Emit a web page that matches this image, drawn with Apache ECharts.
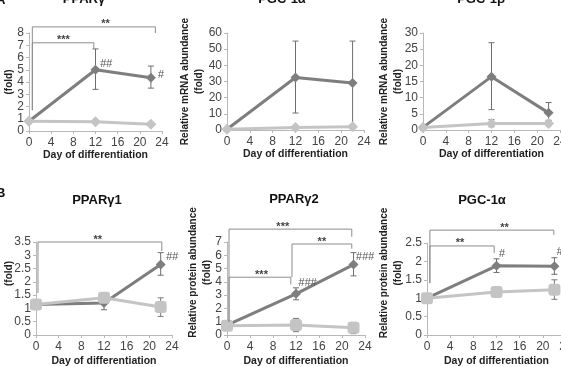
<!DOCTYPE html>
<html>
<head>
<meta charset="utf-8">
<script src="https://cdn.jsdelivr.net/npm/echarts@6/dist/echarts.min.js"></script>
<style>
  html, body { margin: 0; padding: 0; background: #fff; }
  #chart { width: 561px; height: 367px; }
</style>
</head>
<body>
<div id="chart"></div>
<script>
const days = [0, 12, 22];

// A - mRNA, B - protein. dark = differentiating line, light = second line
const ppargMrnaDark = [0.8, 5.0, 4.35];
const ppargMrnaDarkErr = [null, [3.4, 6.7], [3.5, 5.3]];
const ppargMrnaLight = [0.8, 0.75, 0.55];
const ppargMrnaLightErr = [null, null, null];
const ppargMrnaBrackets = [[0.6, 11.7, 7.2, 1.7, 6.7, 6.2, '***'], [0.6, 22.8, 8.5, 1.7, 8.0, 13.8, '**']];
const ppargMrnaHash = [[13.9, 5.45, '##'], [23.8, 4.6, '#']];

const pgc1aMrnaDark = [0.5, 32.5, 29];
const pgc1aMrnaDarkErr = [null, [10.5, 55], [2, 55]];
const pgc1aMrnaLight = [0.5, 1.5, 2];
const pgc1aMrnaLightErr = [null, null, null];

const pgc1bMrnaDark = [0.8, 16.5, 5.3];
const pgc1bMrnaDarkErr = [null, [6.3, 27], [3.0, 8.5]];
const pgc1bMrnaLight = [0.8, 2.0, 2.0];
const pgc1bMrnaLightErr = [null, [1.0, 3.2], [1.5, 2.5]];

const ppargg1Dark = [1.15, 1.2, 2.65];
const ppargg1DarkErr = [null, [0.95, 1.4], [2.25, 3.1]];
const ppargg1Light = [1.15, 1.4, 1.05];
const ppargg1LightErr = [null, null, [0.7, 1.4]];
const ppargg1Brackets = [[0.35, 22.2, 3.5, 1.58, 3.16, 10.9, '**']];
const ppargg1Hash = [[24.0, 2.95, '##']];

const ppargg2Dark = [0.75, 3.1, 5.3];
const ppargg2DarkErr = [null, [2.65, 3.55], [4.45, 6.2]];
const ppargg2Light = [0.7, 0.75, 0.55];
const ppargg2LightErr = [[0.35, 1.0], [0.25, 1.25], [0.1, 0.95]];
const ppargg2Brackets = [
  [0.35, 21.7, 7.97, 1.0, 7.4, 9.7, '***'],
  [11.3, 21.7, 6.85, 4.35, 6.5, 16.5, '**'],
  [0.35, 11.1, 4.35, 1.0, 3.8, 6.0, '***']
];
const ppargg2Hash = [[14.0, 3.9, '###'], [24.0, 5.85, '###']];

const pgc1aProtDark = [1.0, 1.88, 1.87];
const pgc1aProtDarkErr = [null, [1.7, 2.07], [1.65, 2.1]];
const pgc1aProtLight = [1.0, 1.17, 1.23];
const pgc1aProtLightErr = [null, [1.05, 1.3], [0.97, 1.5]];
const pgc1aProtBrackets = [[0.5, 21.9, 2.85, 1.41, 2.72, 13.4, '**'], [0.5, 11.6, 2.42, 1.41, 2.23, 5.7, '**']];
const pgc1aProtHash = [[12.9, 2.2, '#'], [22.9, 2.25, '#']];

const DARK = '#7e7e7e';
const LIGHT = '#c4c4c4';
const AXIS = '#b8b8b8';
const FONT = 'Liberation Sans, Arial, sans-serif';

const panels = [
  { title: 'PPARγ', tx: 84, ty: -1, grid: { left: 29, top: 33, width: 133, height: 98 }, yMax: 8, yStep: 1,
    yName: 'Relative mRNA abundance\n(fold)', yGap: 14, yShift: 0, xGap: 19,
    dark: ppargMrnaDark, darkErr: ppargMrnaDarkErr, light: ppargMrnaLight, lightErr: ppargMrnaLightErr,
    lightSymbol: 'diamond', brackets: ppargMrnaBrackets, hash: ppargMrnaHash },
  { title: 'PGC-1α', tx: 282, ty: -1, grid: { left: 227, top: 33, width: 137, height: 97 }, yMax: 60, yStep: 10,
    yName: 'Relative mRNA abundance\n(fold)', yGap: 22, yShift: 0, xGap: 19,
    dark: pgc1aMrnaDark, darkErr: pgc1aMrnaDarkErr, light: pgc1aMrnaLight, lightErr: pgc1aMrnaLightErr,
    lightSymbol: 'diamond', brackets: [], hash: [] },
  { title: 'PGC-1β', tx: 481, ty: -1, grid: { left: 423, top: 33, width: 137, height: 97 }, yMax: 30, yStep: 5,
    yName: 'Relative mRNA abundance\n(fold)', yGap: 19, yShift: 0, xGap: 19,
    dark: pgc1bMrnaDark, darkErr: pgc1bMrnaDarkErr, light: pgc1bMrnaLight, lightErr: pgc1bMrnaLightErr,
    lightSymbol: 'diamond', brackets: [], hash: [] },
  { title: 'PPARγ1', tx: 97, ty: 200, grid: { left: 36, top: 242, width: 136, height: 93 }, yMax: 3.5, yStep: 0.5,
    yName: 'Relative protein abundance\n(fold)', yGap: 21, yShift: 30, xGap: 21,
    dark: ppargg1Dark, darkErr: ppargg1DarkErr, light: ppargg1Light, lightErr: ppargg1LightErr,
    lightSymbol: 'roundRect', brackets: ppargg1Brackets, hash: ppargg1Hash },
  { title: 'PPARγ2', tx: 294, ty: 199, grid: { left: 227, top: 242, width: 138, height: 93 }, yMax: 7, yStep: 1,
    yName: 'Relative protein abundance\n(fold)', yGap: 14, yShift: 32, xGap: 21,
    dark: ppargg2Dark, darkErr: ppargg2DarkErr, light: ppargg2Light, lightErr: ppargg2LightErr,
    lightSymbol: 'roundRect', brackets: ppargg2Brackets, hash: ppargg2Hash },
  { title: 'PGC-1α', tx: 482, ty: 200, grid: { left: 427, top: 243, width: 139, height: 92 }, yMax: 2.5, yStep: 0.5,
    yName: 'Relative protein abundance\n(fold)', yGap: 23, yShift: 32, xGap: 21,
    dark: pgc1aProtDark, darkErr: pgc1aProtDarkErr, light: pgc1aProtLight, lightErr: pgc1aProtLightErr,
    lightSymbol: 'roundRect', brackets: pgc1aProtBrackets, hash: pgc1aProtHash }
];

function errorSeries(i, errs, color) {
  const data = [];
  errs.forEach((e, k) => { if (e) data.push([days[k], e[0], e[1]]); });
  return {
    type: 'custom', xAxisIndex: i, yAxisIndex: i, z: 1, silent: true, data,
    encode: { x: 0, y: [1, 2] },
    renderItem: (params, api) => {
      const lo = api.coord([api.value(0), api.value(1)]);
      const hi = api.coord([api.value(0), api.value(2)]);
      const c = 3;
      const st = { stroke: color, lineWidth: 1 };
      return { type: 'group', children: [
        { type: 'line', shape: { x1: lo[0], y1: lo[1], x2: hi[0], y2: hi[1] }, style: st },
        { type: 'line', shape: { x1: lo[0] - c, y1: lo[1], x2: lo[0] + c, y2: lo[1] }, style: st },
        { type: 'line', shape: { x1: hi[0] - c, y1: hi[1], x2: hi[0] + c, y2: hi[1] }, style: st }
      ] };
    }
  };
}

function lineSeries(i, vals, color, symbol, size, z) {
  return {
    type: 'line', xAxisIndex: i, yAxisIndex: i, z, silent: true, animation: false,
    data: days.map((d, k) => [d, vals[k]]),
    symbol, symbolSize: size, showSymbol: true,
    lineStyle: { width: 3, color },
    itemStyle: { color, borderWidth: 0 }
  };
}

function bracketSeries(i, list) {
  return {
    type: 'custom', xAxisIndex: i, yAxisIndex: i, z: 5, silent: true,
    data: list.map(b => b.slice(0, 6)),
    renderItem: (params, api) => {
      const b = list[params.dataIndex];
      const a = api.coord([b[0], b[3]]), t0 = api.coord([b[0], b[2]]);
      const t1 = api.coord([b[1], b[2]]), d = api.coord([b[1], b[4]]);
      const lab = api.coord([b[5], b[2]]);
      return { type: 'group', children: [
        { type: 'polyline', shape: { points: [a, t0, t1, d] }, style: { stroke: '#8c8c8c', lineWidth: 1, fill: null } },
        { type: 'text', x: lab[0], y: lab[1] + 3, style: { text: b[6], align: 'center', verticalAlign: 'bottom', font: 'bold 11px ' + FONT, fill: '#444' } }
      ] };
    }
  };
}

function hashSeries(i, list) {
  return {
    type: 'custom', xAxisIndex: i, yAxisIndex: i, z: 5, silent: true,
    data: list.map(h => h.slice(0, 2)),
    renderItem: (params, api) => {
      const h = list[params.dataIndex];
      const p = api.coord([h[0], h[1]]);
      return { type: 'text', x: p[0], y: p[1], style: { text: h[2], align: 'center', verticalAlign: 'middle', font: 'italic 11px ' + FONT, fill: '#555' } };
    }
  };
}

const option = { animation: false, grid: [], xAxis: [], yAxis: [], series: [], graphic: [] };

panels.forEach((p, i) => {
  option.grid.push(Object.assign({ outerBoundsMode: 'none', containLabel: false }, p.grid));
  option.xAxis.push({
    type: 'value', gridIndex: i, min: 0, max: 24, interval: 4,
    name: 'Day of differentiation', nameLocation: 'middle', nameGap: p.xGap, nameMoveOverlap: false,
    nameTextStyle: { fontFamily: FONT, fontWeight: 'bold', fontSize: 10.5, color: '#222' },
    axisLine: { lineStyle: { color: AXIS, width: 1 } },
    axisTick: { show: true, length: 3, lineStyle: { color: AXIS } },
    axisLabel: { margin: 6, fontSize: 12, fontFamily: FONT, color: '#444' },
    splitLine: { show: false }
  });
  option.yAxis.push({
    type: 'value', gridIndex: i, min: 0, max: p.yMax, interval: p.yStep,
    name: p.yName, nameLocation: 'middle', nameGap: p.yGap - 1, nameRotate: 90, nameMoveOverlap: false,
    nameTextStyle: { fontFamily: FONT, fontWeight: 'bold', fontSize: 10, lineHeight: 14, color: '#222', padding: [0, 0, 0, p.yShift] },
    axisLine: { show: true, lineStyle: { color: AXIS, width: 1 } },
    axisTick: { show: true, length: 3, lineStyle: { color: AXIS } },
    axisLabel: { margin: 5, fontSize: 12, fontFamily: FONT, color: '#444' },
    splitLine: { show: false }
  });
  option.series.push(
    errorSeries(i, p.darkErr, '#6e6e6e'),
    errorSeries(i, p.lightErr, '#7a7a7a'),
    lineSeries(i, p.dark, DARK, 'diamond', 10, 2),
    lineSeries(i, p.light, LIGHT, p.lightSymbol, p.lightSymbol === 'diamond' ? 11 : 12, 3),
    bracketSeries(i, p.brackets),
    hashSeries(i, p.hash)
  );
  option.graphic.push({
    type: 'text', x: p.tx, y: p.ty, silent: true,
    style: { text: p.title, align: 'center', verticalAlign: 'middle', font: 'bold 13px ' + FONT, fill: '#111' }
  });
});

option.graphic.push(
  { type: 'text', x: -4, y: 0, silent: true, style: { text: 'A', align: 'left', verticalAlign: 'middle', font: 'bold 13px ' + FONT, fill: '#111' } },
  { type: 'text', x: -4, y: 193, silent: true, style: { text: 'B', align: 'left', verticalAlign: 'middle', font: 'bold 13px ' + FONT, fill: '#111' } }
);

const myChart = echarts.init(document.getElementById('chart'));
myChart.setOption(option);
window.addEventListener('resize', () => {
  myChart.resize();
});
</script>
</body>
</html>
